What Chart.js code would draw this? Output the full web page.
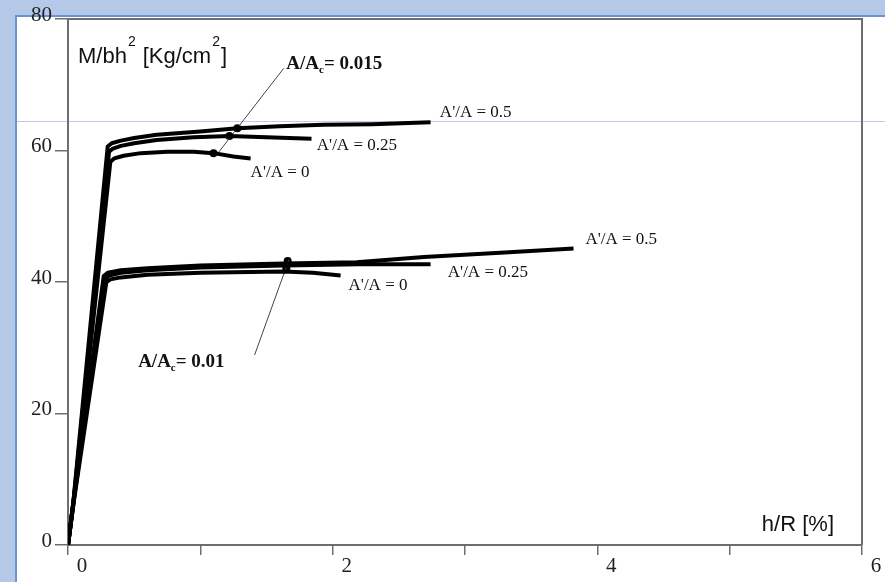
<!DOCTYPE html>
<html>
<head>
<meta charset="utf-8">
<script src="https://cdn.jsdelivr.net/npm/chart.js@4.4.1/dist/chart.umd.min.js"></script>
<style>
  html,body{margin:0;padding:0;}
  body{width:885px;height:582px;background:#b6c8e8;position:relative;overflow:hidden;}
  #panel{position:absolute;left:15px;top:15px;right:0;bottom:0;background:#fff;border-left:2px solid #6a93d1;border-top:2px solid #6a93d1;}
  #hline{position:absolute;left:17px;top:121px;width:868px;height:1px;background:#bccbe6;}
  #wrap{position:absolute;left:0;top:0;width:885px;height:582px;}
</style>
</head>
<body>
<div id="panel"></div>
<div id="hline"></div>
<div id="wrap"><canvas id="c" width="885" height="582"></canvas></div>
<script>
// ---- data (h/R [%], M/bh^2 [Kg/cm^2]) ----
// A/Ac = 0.015 group
const up05 = [[0,0],[0.04,6.5],[0.30,60.6],[0.33,61.1],[0.40,61.5],[0.5,61.9],[0.67,62.4],[1.0,62.9],[1.28,63.4],[1.6,63.7],[1.93,63.9],[2.3,64.0],[2.74,64.3]];
const up025 = [[0,0],[0.04,6.3],[0.31,59.8],[0.34,60.3],[0.40,60.7],[0.5,61.1],[0.67,61.6],[0.95,62.0],[1.22,62.2],[1.5,62.0],[1.84,61.8]];
const up0 = [[0,0],[0.04,6.1],[0.32,58.3],[0.35,58.8],[0.42,59.2],[0.55,59.6],[0.75,59.8],[0.95,59.8],[1.10,59.6],[1.25,59.1],[1.38,58.8]];
// A/Ac = 0.01 group
const lo05 = [[0,0],[0.04,6.5],[0.27,40.9],[0.30,41.4],[0.4,41.8],[0.6,42.1],[1.0,42.5],[1.63,42.8],[2.18,43.0],[2.69,43.8],[3.3,44.5],[3.82,45.1]];
const lo025 = [[0,0],[0.04,6.3],[0.28,40.5],[0.31,41.0],[0.4,41.4],[0.6,41.8],[1.0,42.2],[1.63,42.5],[2.2,42.7],[2.74,42.7]];
const lo0 = [[0,0],[0.04,6.1],[0.29,40.0],[0.32,40.4],[0.4,40.7],[0.6,41.1],[1.0,41.4],[1.63,41.6],[1.85,41.4],[2.06,41.0]];
// points marked on the curves
const marks = [[1.28,63.4],[1.22,62.2],[1.10,59.6],[1.66,43.2],[1.65,42.1]];
// leader lines to group labels
const leaderUp = [[1.11,59.0],[1.63,72.5]];
const leaderLo = [[1.41,28.9],[1.67,43.4]];
// tick values
const xTicks = [0,1,2,3,4,5,6];
const xTickLabels = ['0','','2','','4','','6'];
const yTicks = [0,20,40,60,80];
// curve labels: text, anchor (data coords)
const curveLabels = [
  ["A'/A = 0.5", 2.81, 65.7],
  ["A'/A = 0.25", 1.88, 60.8],
  ["A'/A = 0", 1.38, 56.6],
  ["A'/A = 0.5", 3.91, 46.4],
  ["A'/A = 0.25", 2.87, 41.4],
  ["A'/A = 0", 2.12, 39.4]
];
const groupLabels = [
  ["0.015", 1.65, 73.2],
  ["0.01", 0.53, 27.8]
];

const toXY = a => a.map(p => ({x:p[0], y:p[1]}));
const curve = d => ({data:toXY(d), showLine:true, borderColor:'#000', borderWidth:4, pointRadius:0, tension:0, borderJoinStyle:'round', fill:false});

const overlay = {
  id:'overlay',
  afterDraw(chart){
    const ctx = chart.ctx, a = chart.chartArea, xs = chart.scales.x, ys = chart.scales.y;
    ctx.save();
    // frame top & right
    ctx.strokeStyle = '#6e6e6e'; ctx.lineWidth = 2;
    ctx.beginPath();
    ctx.moveTo(a.left, a.top); ctx.lineTo(a.right, a.top); ctx.lineTo(a.right, a.bottom);
    ctx.stroke();
    ctx.fillStyle = '#111';
    ctx.textBaseline = 'middle'; ctx.textAlign = 'left';
    ctx.font = '17px "Liberation Serif"';
    curveLabels.forEach(l => ctx.fillText(l[0], xs.getPixelForValue(l[1]), ys.getPixelForValue(l[2])));
    groupLabels.forEach(l => {
      let x = xs.getPixelForValue(l[1]), y = ys.getPixelForValue(l[2]);
      ctx.font = 'bold 19px "Liberation Serif"';
      ctx.fillText('A/A', x, y); x += ctx.measureText('A/A').width;
      ctx.font = 'bold 11px "Liberation Serif"';
      ctx.fillText('c', x, y + 6); x += ctx.measureText('c').width;
      ctx.font = 'bold 19px "Liberation Serif"';
      ctx.fillText('= ' + l[0], x, y);
    });
    // axis titles
    ctx.textBaseline = 'alphabetic';
    ctx.fillStyle = '#111';
    let tx = a.left + 10, ty = a.top + 44;
    const big = '22px "Liberation Sans"', sup = '14px "Liberation Sans"';
    ctx.font = big; ctx.fillText('M/bh', tx, ty); tx += ctx.measureText('M/bh').width + 1;
    ctx.font = sup; ctx.fillText('2', tx, ty - 17); tx += ctx.measureText('2').width + 7;
    ctx.font = big; ctx.fillText('[Kg/cm', tx, ty); tx += ctx.measureText('[Kg/cm').width + 1;
    ctx.font = sup; ctx.fillText('2', tx, ty - 17); tx += ctx.measureText('2').width + 1;
    ctx.font = big; ctx.fillText(']', tx, ty);
    ctx.font = big; ctx.textAlign = 'right';
    ctx.fillText('h/R [%]', a.right - 28, a.bottom - 14);
    ctx.restore();
  }
};

new Chart(document.getElementById('c'), {
  type:'scatter',
  data:{datasets:[
    curve(up05), curve(up025), curve(up0),
    curve(lo05), curve(lo025), curve(lo0),
    {data:toXY(leaderUp), showLine:true, borderColor:'#444', borderWidth:1, pointRadius:0},
    {data:toXY(leaderLo), showLine:true, borderColor:'#444', borderWidth:1, pointRadius:0},
    {data:toXY(marks), showLine:false, pointRadius:4, pointBackgroundColor:'#000', pointBorderColor:'#000', borderWidth:0}
  ]},
  options:{
    responsive:false, animation:false, devicePixelRatio:1,
    layout:{padding:{left:0, top:19, right:23, bottom:0}},
    plugins:{legend:{display:false}, tooltip:{enabled:false}},
    scales:{
      x:{type:'linear', min:0, max:6,
        afterFit: s => { s.height = 37; },
        afterBuildTicks: s => { s.ticks = xTicks.map(v => ({value:v})); },
        ticks:{callback:(v,i) => xTickLabels[i], font:{family:'"Liberation Serif"', size:21}, color:'#222', labelOffset:14, padding:-1, maxRotation:0, autoSkip:false},
        grid:{drawOnChartArea:false, drawTicks:true, tickLength:10, color:'#6e6e6e', lineWidth:1.5},
        border:{display:true, color:'#6e6e6e', width:2}
      },
      y:{type:'linear', min:0, max:80,
        afterFit: s => { s.width = 68; },
        afterBuildTicks: s => { s.ticks = yTicks.map(v => ({value:v})); },
        ticks:{font:{family:'"Liberation Serif"', size:21}, color:'#222', padding:3, labelOffset:-4},
        grid:{drawOnChartArea:false, drawTicks:true, tickLength:13, color:'#6e6e6e', lineWidth:1.5},
        border:{display:true, color:'#6e6e6e', width:2}
      }
    }
  },
  plugins:[overlay]
});
</script>
</body>
</html>
